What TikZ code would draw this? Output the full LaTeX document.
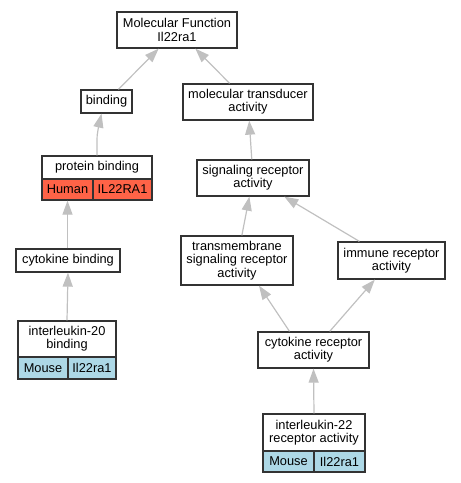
\documentclass[tikz,border=0pt]{standalone}
\usepackage{fontspec}
\setmainfont{Liberation Sans}
\usetikzlibrary{arrows.meta,positioning,calc}
\definecolor{humanred}{HTML}{FF6347}
\definecolor{mouseblue}{HTML}{ADD8E6}
\definecolor{edgegray}{HTML}{C0C0C0}

\begin{document}
\begin{tikzpicture}[x=1pt, y=-1pt,
  every node/.style={font=\fontsize{12.8}{13.3}\selectfont, inner sep=0pt, align=center},
  term/.style={draw=black!80, line width=1.3pt, fill=white},
  human/.style={term, fill=humanred},
  mouse/.style={term, fill=mouseblue},
  isa/.style={draw=edgegray, line width=1.2pt, -{Triangle[length=14pt,width=10pt]}}]
\useasboundingbox (0,0) rectangle (461,483);

% Upper terms
\node[term, minimum width=120pt, minimum height=36pt] (mf) at (177,30) {Molecular Function\\Il22ra1};
\node[term, minimum width=51pt, minimum height=23pt] (bind) at (106.5,101.5) {binding};
\node[term, minimum width=130pt, minimum height=36pt] (mta) at (248,102) {molecular transducer\\activity};
\node[term, minimum width=112pt, minimum height=36pt] (sra) at (253,178) {signaling receptor\\activity};

% Protein binding with human annotation
\node[term, minimum width=110pt, minimum height=23pt] (pb) at (97,167.5) {protein binding};
\node[human, minimum width=51pt, minimum height=21pt] (pbh) at (67.5,189.5) {Human};
\node[human, minimum width=59pt, minimum height=21pt] (pbg) at (122.5,189.5) {IL22RA1};

% Middle terms
\node[term, minimum width=104pt, minimum height=23pt] (cb) at (68,260.5) {cytokine binding};
\node[term, minimum width=112pt, minimum height=49pt] (tsra) at (237,260.5) {transmembrane\\signaling receptor\\activity};
\node[term, minimum width=107pt, minimum height=37pt] (ira) at (391.5,260.5) {immune receptor\\activity};
\node[term, minimum width=111pt, minimum height=36pt] (cra) at (313.5,350) {cytokine receptor\\activity};

% Mouse annotations
\node[term, minimum width=98pt, minimum height=36pt] (il20) at (67,339) {interleukin-20\\binding};
\node[mouse, minimum width=50pt, minimum height=22pt] (il20m) at (43,368) {Mouse};
\node[mouse, minimum width=48pt, minimum height=22pt] (il20g) at (92,368) {Il22ra1};
\node[term, minimum width=102pt, minimum height=37pt] (il22) at (314,432.5) {interleukin-22\\receptor activity};
\node[mouse, minimum width=51pt, minimum height=21pt] (il22m) at (288.5,461.5) {Mouse};
\node[mouse, minimum width=51pt, minimum height=21pt] (il22g) at (339.5,461.5) {Il22ra1};

% is_a edges
\draw[isa] (bind) -- (mf);
\draw[isa] (mta) -- (mf);
\draw[isa] (pb.north) .. controls ($(pb.north)+(0,-22)$) .. ($(bind.south)+(-5,0)$);
\draw[isa] (sra) -- (mta);
\draw[isa] (pbh.north |- cb.north) -- (pbh.south);
\draw[isa] (tsra) -- (sra);
\draw[isa] (ira) -- (sra);
\draw[isa] ($(cra.north)+(-24,0)$) -- ($(tsra.south)+(22,0)$);
\draw[isa] (cra) -- (ira);
\draw[isa] (il20.north) -- (cb.south);
\draw[isa] (il22.north) -- (cra.south);
\end{tikzpicture}
\end{document}
